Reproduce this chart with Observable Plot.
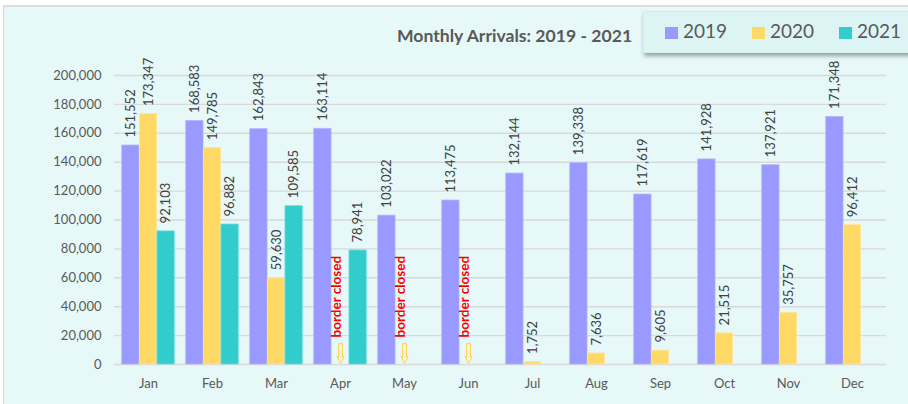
<!DOCTYPE html>
<html>
<head>
<meta charset="utf-8">
<script src="https://cdn.jsdelivr.net/npm/d3@7"></script>
<script src="https://cdn.jsdelivr.net/npm/@observablehq/plot@0.6"></script>
<style>
  html, body { margin: 0; padding: 0; background: #fff; }
  #wrap { position: relative; width: 908px; height: 404px; overflow: hidden; font-family: Lato, "Open Sans", sans-serif; }
  #panel { position: absolute; left: 3px; top: 5px; width: 910px; height: 404px; background: #E6F8F8; border-top: 2px solid #DDDDDD; border-left: 1px solid #D4D4D4; }
  #chart { position: absolute; left: 0; top: 0; }
  #title { position: absolute; left: 397px; top: 25px; font-size: 17.6px; font-weight: bold; color: #595959; white-space: nowrap; }
  #legend { position: absolute; left: 643px; top: 11px; width: 280px; height: 40px; background: #DDF4F4; border: 1px solid #D2EEEE; box-shadow: 1px 3px 4px rgba(0,0,0,0.35); }
  .item { position: absolute; top: 7px; font-size: 19px; color: #595959; line-height: 24px; }
  .sw { position: absolute; top: 15px; width: 13px; height: 12px; }
</style>
</head>
<body>
<div id="wrap">
  <div id="panel"></div>
  <div id="chart"></div>
  <div id="title"></div>
  <div id="legend"></div>
</div>
<script>
const months = ["Jan","Feb","Mar","Apr","May","Jun","Jul","Aug","Sep","Oct","Nov","Dec"];
const years = ["2019","2020","2021"];
const v2019 = [151552,168583,162843,163114,103022,113475,132144,139338,117619,141928,137921,171348];
const v2020 = [173347,149785,59630,null,null,null,1752,7636,9605,21515,35757,96412];
const v2021 = [92103,96882,109585,78941,null,null,null,null,null,null,null,null];
const yTicks = [0,20000,40000,60000,80000,100000,120000,140000,160000,180000,200000];
const closedMonths = ["Apr","May","Jun"];
const closedLabel = "border closed";
const titleText = "Monthly Arrivals: 2019 - 2021";
const colors = ["#9999FF","#FFD966","#33CCCC"];
const edges = ["#B5B5FF","#FFE699","#6FDCDC"];

const series = [v2019, v2020, v2021].map(vals => months.map((m, i) => ({month: m, value: vals[i]})));
const fmt = d3.format(",");

const barW = 17.6;
const step = (908 - 114 - 22) / months.length;
const inset = (step - barW) / 2;

const marks = [
  Plot.ruleY(yTicks, {stroke: "#D9D9D9", strokeWidth: 1.4})
];
series.forEach((rows, k) => {
  const present = rows.filter(d => d.value != null);
  const off = (k - 1) * barW;
  marks.push(Plot.barY(present, {x: "month", y: "value", fill: colors[k], stroke: edges[k], strokeWidth: 0.8, insetLeft: inset, insetRight: inset, dx: off}));
  marks.push(Plot.text(present, {x: "month", y: "value", text: d => fmt(d.value), rotate: -90, textAnchor: "start", dx: off, dy: -8, fill: "#404040", fontSize: 13}));
});

const arrowSymbol = {
  draw(ctx) {
    ctx.moveTo(-1.8, -10);
    ctx.lineTo(1.8, -10);
    ctx.lineTo(1.8, 3.3);
    ctx.lineTo(3.6, 3.3);
    ctx.lineTo(0, 10);
    ctx.lineTo(-3.6, 3.3);
    ctx.lineTo(-1.8, 3.3);
    ctx.closePath();
  }
};
marks.push(Plot.text(closedMonths, {x: d => d, text: () => closedLabel, frameAnchor: "bottom", rotate: -90, textAnchor: "start", dy: -27, fill: "#FF0000", fontWeight: "bold", fontSize: 13.5}));
marks.push(Plot.dot(closedMonths, {x: d => d, frameAnchor: "bottom", dy: -11.3, symbol: arrowSymbol, fill: "#FFF6D5", stroke: "#FFCF40", strokeWidth: 1}));

const plot = Plot.plot({
  width: 908,
  height: 404,
  marginLeft: 114,
  marginRight: 22,
  marginTop: 75,
  marginBottom: 40,
  style: {background: "none", fontFamily: "Lato, 'Open Sans', sans-serif", fontSize: "13px", color: "#595959"},
  x: {domain: months, type: "band", padding: 0, tickSize: 0, tickPadding: 14, label: null},
  y: {domain: [0, 200000], ticks: yTicks, tickSize: 0, tickPadding: 13, tickFormat: d => fmt(d), label: null},
  marks
});
document.getElementById("chart").appendChild(plot);
document.getElementById("title").textContent = titleText;

const legend = document.getElementById("legend");
const swX = [21, 108, 195];
years.forEach((y, k) => {
  const sw = document.createElement("div");
  sw.className = "sw";
  sw.style.left = swX[k] + "px";
  sw.style.background = colors[k];
  legend.appendChild(sw);
  const t = document.createElement("div");
  t.className = "item";
  t.style.left = (swX[k] + 18) + "px";
  t.textContent = y;
  legend.appendChild(t);
});
</script>
</body>
</html>
